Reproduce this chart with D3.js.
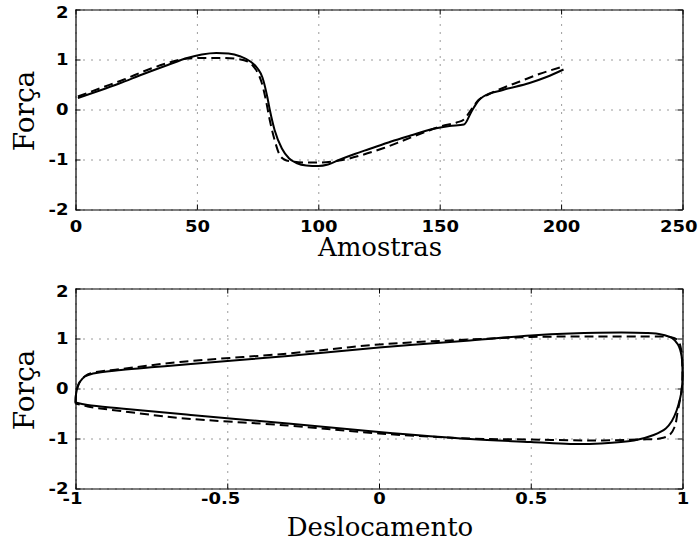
<!DOCTYPE html>
<html>
<head>
<meta charset="utf-8">
<script src="https://cdn.jsdelivr.net/npm/d3@7"></script>
<style>
  body { margin: 0; background: #fff; }
</style>
</head>
<body>
<div id="chart"></div>
<script>
const width = 699;
const height = 545;

// painel de cima: força ao longo das amostras (real = contínua, modelo = tracejada)
const amostras_real = [1, 10, 18, 28, 38, 46, 52, 58, 63, 68, 72, 75, 77, 79, 80, 82, 85, 88, 91, 95, 100, 104, 109, 115, 121, 130, 138, 147, 154, 160, 163, 166, 168, 176, 187, 194, 201];
const forca_real = [0.23, 0.38, 0.52, 0.71, 0.89, 1.03, 1.10, 1.13, 1.12, 1.06, 0.96, 0.82, 0.64, 0.25, 0.0, -0.41, -0.78, -0.98, -1.07, -1.12, -1.13, -1.10, -1.0, -0.89, -0.79, -0.64, -0.52, -0.39, -0.33, -0.30, -0.05, 0.18, 0.26, 0.39, 0.53, 0.65, 0.80];
const amostras_modelo = [1, 11, 20, 29, 38, 46, 52, 60, 67, 71, 73, 75, 76.6, 78.4, 80, 82, 84, 86, 89, 95, 101, 106, 110, 118, 127, 135, 145, 151, 157, 160, 163, 166, 170, 175, 183, 191, 201];
const forca_modelo = [0.26, 0.44, 0.60, 0.78, 0.93, 1.02, 1.03, 1.03, 1.01, 0.96, 0.88, 0.74, 0.55, 0.19, -0.21, -0.61, -0.90, -1.0, -1.04, -1.06, -1.06, -1.04, -1.01, -0.91, -0.77, -0.62, -0.43, -0.33, -0.26, -0.20, 0.0, 0.19, 0.30, 0.41, 0.56, 0.71, 0.86];

// painel de baixo: laço força x deslocamento
const desloc_real = [-1.0, -0.998, -0.993, -0.986, -0.969, -0.942, -0.85, -0.74, -0.62, -0.3, 0.0, 0.3, 0.5, 0.63, 0.8, 0.88, 0.93, 0.965, 0.985, 0.997, 1.0, 0.998, 0.992, 0.98, 0.965, 0.945, 0.905, 0.84, 0.73, 0.63, 0.5, 0.3, 0.0, -0.3, -0.62, -0.85, -0.96, -1.0];
const forca_laco_real = [-0.28, -0.1, 0.03, 0.13, 0.24, 0.30, 0.37, 0.43, 0.49, 0.65, 0.82, 0.96, 1.06, 1.10, 1.12, 1.11, 1.08, 1.01, 0.88, 0.65, 0.3, 0.0, -0.2, -0.45, -0.65, -0.8, -0.93, -1.04, -1.10, -1.11, -1.07, -1.01, -0.87, -0.70, -0.53, -0.40, -0.33, -0.28];
const desloc_modelo = [-1.0, -0.998, -0.992, -0.984, -0.966, -0.94, -0.85, -0.656, -0.3, 0.0, 0.3, 0.5, 0.7, 0.9, 0.96, 0.982, 0.993, 0.999, 0.999, 0.994, 0.985, 0.974, 0.957, 0.925, 0.86, 0.7, 0.5, 0.3, 0.0, -0.3, -0.656, -0.85, -0.96, -1.0];
const forca_laco_modelo = [-0.30, -0.1, 0.05, 0.15, 0.26, 0.32, 0.39, 0.53, 0.70, 0.88, 0.98, 1.03, 1.04, 1.04, 1.03, 0.98, 0.85, 0.5, 0.1, -0.15, -0.43, -0.77, -0.93, -1.0, -1.02, -1.04, -1.02, -1.0, -0.90, -0.74, -0.59, -0.45, -0.36, -0.30];

const ticks_amostras = [0, 50, 100, 150, 200, 250];
const rotulos_amostras = ["0", "50", "100", "150", "200", "250"];
const ticks_desloc = [-1, -0.5, 0, 0.5, 1];
const rotulos_desloc = ["-1", "-0.5", "0", "0.5", "1"];
const ticks_forca = [-2, -1, 0, 1, 2];
const rotulos_forca = ["-2", "-1", "0", "1", "2"];

const esq = 75.5, dir = 682.5;
const esticar = 1.2;   // os números do original são bem largos
const fonteNum = "'DejaVu Sans', 'Liberation Sans', sans-serif";

const svg = d3.select("#chart")
  .append("svg")
  .attr("width", width)
  .attr("height", height)
  .style("background", "#fff");

function painel(cfg) {
  const x = d3.scaleLinear().domain(cfg.xdom).range([esq, dir]);
  const y = d3.scaleLinear().domain([-2, 2]).range([cfg.baixo, cfg.topo]);
  const g = svg.append("g");

  // grade pontilhada
  const gx = g.append("g").attr("transform", `translate(0,${cfg.baixo})`)
    .call(d3.axisBottom(x).tickValues(cfg.xticks).tickSize(-(cfg.baixo - cfg.topo)).tickFormat(""));
  gx.select(".domain").remove();
  gx.selectAll("line").attr("stroke", "#222").attr("stroke-width", 0.9).attr("stroke-dasharray", "1,7");
  const gy = g.append("g").attr("transform", `translate(${esq},0)`)
    .call(d3.axisLeft(y).tickValues(ticks_forca).tickSize(-(dir - esq)).tickFormat(""));
  gy.select(".domain").remove();
  gy.selectAll("line").attr("stroke", "#222").attr("stroke-width", 0.9).attr("stroke-dasharray", "1,7");

  // curvas
  cfg.series.forEach(function(s) {
    const pts = s.xs.map((v, i) => [v, s.ys[i]]);
    const line = d3.line()
      .x(d => x(d[0]))
      .y(d => y(d[1]))
      .curve(cfg.curva);
    g.append("path")
      .datum(pts)
      .attr("fill", "none")
      .attr("stroke", "#000")
      .attr("stroke-width", 2)
      .attr("stroke-linejoin", "round")
      .attr("stroke-dasharray", s.tracejado ? "9,5" : null)
      .attr("d", line);
  });

  // moldura com marcas para dentro
  const inward = [
    [d3.axisBottom(x).tickValues(cfg.xticks), `translate(0,${cfg.baixo})`],
    [d3.axisTop(x).tickValues(cfg.xticks), `translate(0,${cfg.topo})`],
    [d3.axisLeft(y).tickValues(ticks_forca), `translate(${esq},0)`],
    [d3.axisRight(y).tickValues(ticks_forca), `translate(${dir},0)`]
  ];
  inward.forEach(function(a) {
    const ax = g.append("g").attr("transform", a[1])
      .call(a[0].tickSize(-5).tickSizeOuter(0).tickFormat(""));
    ax.select(".domain").attr("stroke", "#000").attr("stroke-width", 1.2);
    ax.selectAll(".tick line").attr("stroke", "#000").attr("stroke-width", 1);
  });

  // números do eixo x
  const lx = g.append("g").attr("transform", `translate(0,${cfg.baixo})`)
    .call(d3.axisBottom(x).tickValues(cfg.xticks).tickSize(0)
      .tickFormat((d, i) => cfg.xrot[i]));
  lx.select(".domain").remove();
  lx.selectAll("text")
    .attr("y", cfg.xlabY)
    .attr("dy", null)
    .style("font-family", fonteNum)
    .style("font-weight", "bold")
    .style("font-size", "15px")
    .attr("fill", "#000")
    .each(function(d) {
      // número centrado sem o sinal; e nada sai da figura
      const t = d3.select(this);
      const w = this.getComputedTextLength() * esticar;
      let dx = 0;
      if (d < 0) dx = -w * 0.18;
      const cx = x(d) + dx;
      if (cx + w / 2 > width - 2) dx -= cx + w / 2 - (width - 2);
      t.attr("x", dx / esticar).attr("transform", `scale(${esticar},1)`);
    });

  // números do eixo y
  const ly = g.append("g").attr("transform", `translate(${esq},0)`)
    .call(d3.axisLeft(y).tickValues(ticks_forca).tickSize(0)
      .tickFormat((d, i) => rotulos_forca[i]));
  ly.select(".domain").remove();
  ly.selectAll("text")
    .attr("x", -7 / esticar)
    .attr("y", d => d === 2 ? 3.5 : 0)
    .attr("transform", `scale(${esticar},1)`)
    .style("font-family", fonteNum)
    .style("font-weight", "bold")
    .style("font-size", "15px")
    .attr("fill", "#000");

  // títulos
  g.append("text")
    .attr("x", (esq + dir) / 2 + 1)
    .attr("y", cfg.tituloY)
    .attr("text-anchor", "middle")
    .style("font-family", "'DejaVu Serif', serif")
    .style("font-size", "26px")
    .text(cfg.titulo);

  g.append("text")
    .attr("transform", `translate(34,${(cfg.topo + cfg.baixo) / 2 + 1.5}) rotate(-90)`)
    .attr("text-anchor", "middle")
    .style("font-family", "'DejaVu Serif', serif")
    .style("font-size", "28px")
    .text("Força");
}

painel({
  xdom: [0, 250], xticks: ticks_amostras, xrot: rotulos_amostras,
  topo: 9.5, baixo: 209.5, xlabY: 22.5,
  titulo: "Amostras", tituloY: 256,
  curva: d3.curveMonotoneX,
  series: [
    { xs: amostras_real, ys: forca_real, tracejado: false },
    { xs: amostras_modelo, ys: forca_modelo, tracejado: true }
  ]
});

painel({
  xdom: [-1, 1], xticks: ticks_desloc, xrot: rotulos_desloc,
  topo: 288.5, baixo: 488.5, xlabY: 15.5,
  titulo: "Deslocamento", tituloY: 536,
  curva: d3.curveCatmullRom.alpha(0.5),
  series: [
    { xs: desloc_real, ys: forca_laco_real, tracejado: false },
    { xs: desloc_modelo, ys: forca_laco_modelo, tracejado: true }
  ]
});
</script>
</body>
</html>
